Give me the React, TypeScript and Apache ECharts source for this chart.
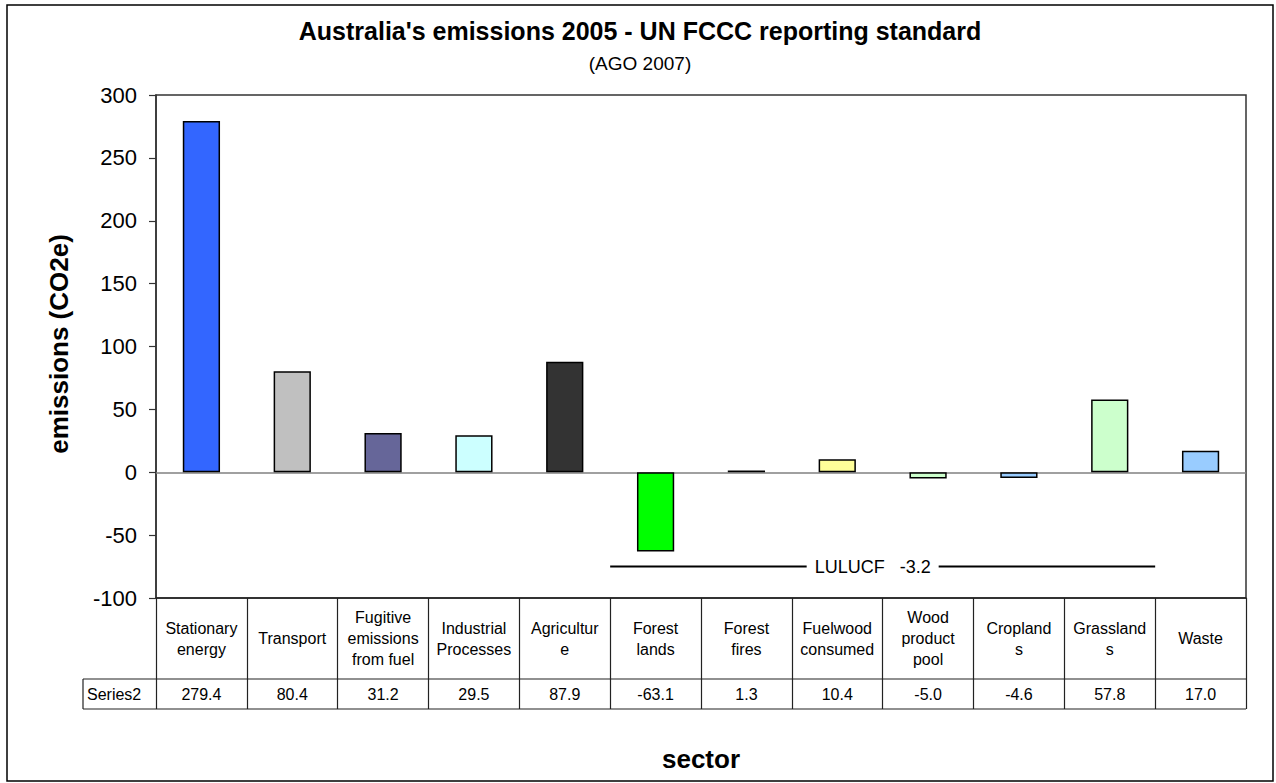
import React, { useEffect, useRef } from "react";
import * as echarts from "echarts";

// ---- data ----
const categories = [
  "Stationary\nenergy",
  "Transport",
  "Fugitive\nemissions\nfrom fuel",
  "Industrial\nProcesses",
  "Agricultur\ne",
  "Forest\nlands",
  "Forest\nfires",
  "Fuelwood\nconsumed",
  "Wood\nproduct\npool",
  "Cropland\ns",
  "Grassland\ns",
  "Waste",
];
const values = [279.4, 80.4, 31.2, 29.5, 87.9, -63.1, 1.3, 10.4, -5.0, -4.6, 57.8, 17.0];
const barColors = [
  "#3366FF", "#C0C0C0", "#666699", "#CCFFFF", "#333333", "#00FF00",
  "#000000", "#FFFF99", "#CCFFCC", "#99CCFF", "#CCFFCC", "#99CCFF",
];
const seriesName = "Series2";
const yMin = -100;
const yMax = 300;
const yInterval = 50;
const lulucfFirst = 5; // Forest lands
const lulucfLast = 10; // Grasslands
const lulucfLevel = -75;
const titleText = "Australia's emissions 2005 - UN FCCC reporting standard";
const subtitleText = "(AGO 2007)";
const yTitle = "emissions (CO2e)";
const xTitle = "sector";

const FONT = "'Liberation Sans', Arial, sans-serif";

export default function App() {
  const ref = useRef<HTMLDivElement>(null);

  useEffect(() => {
    if (!ref.current) return;
    const chart = echarts.init(ref.current, null, { renderer: "svg" });

    const W = 1276;
    const gridLeft = 156;
    const gridRight = 30;
    const gridTop = 95;
    const gridBottom = 185;
    const plotRight = W - gridRight;
    const tableTop = 783 - gridBottom;
    const rowSplit = 679;
    const tableBottom = 709;
    const seriesCellLeft = 83;

    const valueLabels = values.map((v) => v.toFixed(1));

    const baseGraphics: any[] = [
      {
        id: "outer",
        type: "rect",
        shape: { x: 7, y: 5, width: 1266, height: 776 },
        style: { fill: "none", stroke: "#000", lineWidth: 1.5 },
        silent: true,
      },
      {
        id: "title",
        type: "text",
        x: 640,
        y: 31,
        style: {
          text: titleText,
          font: `bold 25px ${FONT}`,
          fill: "#000",
          textAlign: "center",
          textVerticalAlign: "middle",
        },
      },
      {
        id: "subtitle",
        type: "text",
        x: 640,
        y: 63,
        style: {
          text: subtitleText,
          font: `19px ${FONT}`,
          fill: "#000",
          textAlign: "center",
          textVerticalAlign: "middle",
        },
      },
      {
        id: "ytitle",
        type: "text",
        x: 59,
        y: 344,
        rotation: Math.PI / 2,
        style: {
          text: yTitle,
          font: `bold 26px ${FONT}`,
          fill: "#000",
          textAlign: "center",
          textVerticalAlign: "middle",
        },
      },
      {
        id: "xtitle",
        type: "text",
        x: (gridLeft + plotRight) / 2,
        y: 759,
        style: {
          text: xTitle,
          font: `bold 26px ${FONT}`,
          fill: "#000",
          textAlign: "center",
          textVerticalAlign: "middle",
        },
      },
      {
        id: "rowline",
        type: "line",
        shape: { x1: seriesCellLeft, y1: rowSplit, x2: plotRight, y2: rowSplit },
        style: { stroke: "#222", lineWidth: 1.2 },
      },
      {
        id: "bottomline",
        type: "line",
        shape: { x1: seriesCellLeft, y1: tableBottom, x2: plotRight, y2: tableBottom },
        style: { stroke: "#222", lineWidth: 1.2 },
      },
      {
        id: "seriesleft",
        type: "line",
        shape: { x1: seriesCellLeft, y1: rowSplit, x2: seriesCellLeft, y2: tableBottom },
        style: { stroke: "#222", lineWidth: 1.2 },
      },
      {
        id: "seriesname",
        type: "text",
        x: seriesCellLeft + 4,
        y: (rowSplit + tableBottom) / 2,
        style: {
          text: seriesName,
          font: `16px ${FONT}`,
          fill: "#000",
          textAlign: "left",
          textVerticalAlign: "middle",
        },
      },
    ];

    chart.setOption({
      animation: false,
      backgroundColor: "#fff",
      grid: {
        left: gridLeft,
        right: gridRight,
        top: gridTop,
        bottom: gridBottom,
        show: true,
        borderColor: "#333",
        borderWidth: 1.5,
        backgroundColor: "transparent",
      },
      xAxis: [
        {
          type: "category",
          position: "bottom",
          data: categories,
          axisLine: { show: true, onZero: false, lineStyle: { color: "#222", width: 1.5 } },
          axisTick: { show: true, length: tableBottom - tableTop, lineStyle: { color: "#222", width: 1.2 } },
          axisLabel: {
            interval: 0,
            margin: (rowSplit - tableTop) / 2,
            verticalAlign: "middle",
            fontFamily: FONT,
            fontSize: 16,
            lineHeight: 21,
            color: "#000",
          },
          splitLine: { show: false },
        },
        {
          type: "category",
          position: "bottom",
          data: valueLabels,
          axisLine: { show: false },
          axisTick: { show: false },
          axisLabel: {
            interval: 0,
            margin: (rowSplit + tableBottom) / 2 - tableTop,
            verticalAlign: "middle",
            fontFamily: FONT,
            fontSize: 16,
            color: "#000",
          },
          splitLine: { show: false },
        },
      ],
      yAxis: {
        type: "value",
        min: yMin,
        max: yMax,
        interval: yInterval,
        axisLine: { show: true, lineStyle: { color: "#333", width: 1.5 } },
        axisTick: { show: true, length: 7, lineStyle: { color: "#333", width: 1.2 } },
        axisLabel: { fontFamily: FONT, fontSize: 22, color: "#000", margin: 19 },
        splitLine: { show: false },
      },
      series: [
        {
          name: seriesName,
          type: "bar",
          xAxisIndex: 0,
          barWidth: "41%",
          data: values.map((v, i) => ({
            value: v,
            itemStyle: { color: barColors[i], borderColor: "#000", borderWidth: 1.5 },
          })),
          markLine: {
            silent: true,
            symbol: "none",
            label: { show: false },
            lineStyle: { color: "#808080", width: 1.5, type: "solid" },
            data: [{ yAxis: 0 }],
            z: 1,
          },
        },
      ],
      graphic: baseGraphics,
    });

    // LULUCF annotation spanning its categories
    const c0 = chart.convertToPixel({ xAxisIndex: 0 }, 0) as number;
    const c1 = chart.convertToPixel({ xAxisIndex: 0 }, 1) as number;
    const band = c1 - c0;
    const xa = (chart.convertToPixel({ xAxisIndex: 0 }, lulucfFirst) as number) - band / 2;
    const xb = (chart.convertToPixel({ xAxisIndex: 0 }, lulucfLast) as number) + band / 2;
    const yl = chart.convertToPixel({ yAxisIndex: 0 }, lulucfLevel) as number;
    const lulucfSum = values.slice(lulucfFirst, lulucfLast + 1).reduce((a, b) => a + b, 0);
    const textCenter = (xa + xb) / 2 - 10;
    const gapHalf = 66;

    chart.setOption({
      graphic: [
        ...baseGraphics,
        {
          id: "lul1",
          type: "line",
          shape: { x1: xa, y1: yl, x2: textCenter - gapHalf, y2: yl },
          style: { stroke: "#000", lineWidth: 2 },
        },
        {
          id: "lul2",
          type: "line",
          shape: { x1: textCenter + gapHalf, y1: yl, x2: xb, y2: yl },
          style: { stroke: "#000", lineWidth: 2 },
        },
        {
          id: "lultext",
          type: "text",
          x: textCenter,
          y: yl,
          style: {
            text: `LULUCF   ${lulucfSum.toFixed(1)}`,
            font: `18px ${FONT}`,
            fill: "#000",
            textAlign: "center",
            textVerticalAlign: "middle",
          },
        },
      ],
    });

    return () => chart.dispose();
  }, []);

  return (
    <div
      ref={ref}
      style={{ position: "fixed", left: 0, top: 0, width: 1276, height: 783, background: "#fff" }}
    />
  );
}
